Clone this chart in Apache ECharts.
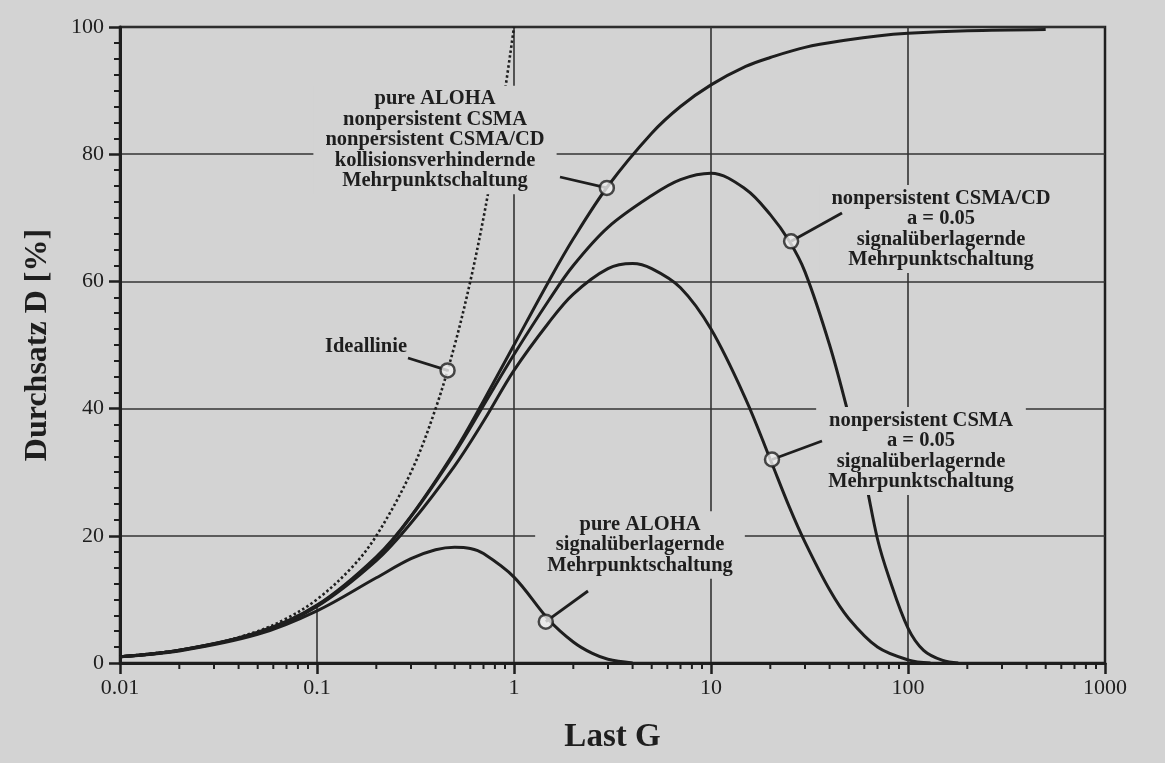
<!DOCTYPE html>
<html><head><meta charset="utf-8">
<script src="https://cdn.jsdelivr.net/npm/echarts@6/dist/echarts.min.js"></script>
<style>html,body{margin:0;padding:0;background:#d3d3d3;}#c{width:1165px;height:763px;}</style>
</head><body><div id="c"></div>
<script>
// ---- data ----
const idealG = [0.01, 0.02, 0.03, 0.05, 0.07, 0.1, 0.15, 0.2, 0.3, 0.4, 0.5, 0.6, 0.7, 0.8, 0.9, 1.0];
const idealD = [1, 2, 3, 5, 7, 10, 15, 20, 30, 40, 50, 60, 70, 80, 90, 100];

const kollG = [0.01, 0.02, 0.05, 0.1, 0.2, 0.3, 0.5, 0.7, 1, 1.5, 2, 3, 5, 7, 10, 15, 20, 30, 50, 70, 100, 200, 500];
const kollD = [1.0, 2.0, 4.8, 9.1, 16.7, 23.1, 33.3, 41.2, 50, 60, 66.7, 75, 83.3, 87.5, 90.9, 93.8, 95.2, 96.8, 98.0, 98.6, 99.0, 99.4, 99.6];

const csmaG = [0.01, 0.02, 0.05, 0.1, 0.2, 0.3, 0.5, 0.7, 1, 1.5, 2, 3, 4, 5, 7, 10, 15, 20, 25, 30, 40, 50, 70, 100, 130];
const csmaD = [1.0, 2.0, 4.7, 8.9, 16.1, 22, 31, 38, 46, 53.5, 58, 62, 62.8, 62, 59, 52.5, 41.5, 32, 24.5, 19, 11.5, 7, 2.5, 0.5, 0];

const cdG = [0.01, 0.02, 0.05, 0.1, 0.2, 0.3, 0.5, 0.7, 1, 1.5, 2, 3, 5, 7, 10, 15, 20, 25, 30, 40, 50, 60, 70, 80, 100, 120, 150, 180];
const cdD = [1.0, 2.0, 4.8, 9.0, 16.5, 23, 33, 40.5, 48.5, 57, 62.5, 68.5, 73.5, 76, 77, 74.5, 70.5, 66.3, 61.5, 50, 39, 29.5, 19.5, 13.5, 5.5, 2, 0.4, 0];

const alohaG = [0.01, 0.02, 0.05, 0.1, 0.2, 0.3, 0.4, 0.5, 0.6, 0.7, 1, 1.5, 2, 2.5, 3, 4];
const alohaD = [1.0, 1.9, 4.5, 8.2, 13.4, 16.4, 17.8, 18.2, 18.0, 17.2, 13.5, 6.8, 3.3, 1.5, 0.6, 0];

// callout circles on the curves (same order as the label texts)
const markG = [2.96, 25.5, 20.4, 1.45, 0.46];
const markD = [74.7, 66.3, 32, 6.5, 46];

const xTickLabels = ['0.01', '0.1', '1', '10', '100', '1000'];
const yTicks = [0, 20, 40, 60, 80, 100];
const labelTexts = [
  'pure ALOHA\nnonpersistent CSMA\nnonpersistent CSMA/CD\nkollisionsverhindernde\nMehrpunktschaltung',
  'nonpersistent CSMA/CD\na = 0.05\nsignalüberlagernde\nMehrpunktschaltung',
  'nonpersistent CSMA\na = 0.05\nsignalüberlagernde\nMehrpunktschaltung',
  'pure ALOHA\nsignalüberlagernde\nMehrpunktschaltung',
  'Ideallinie'
];
const xAxisName = 'Last G';
const yAxisName = 'Durchsatz D [%]';

// ---- chart ----
const BG = '#d3d3d3', INK = '#1e1e1e';
const zip = (a, b) => a.map((v, i) => [v, b[i]]);
const minorX = [];
[0.01, 0.1, 1, 10, 100].forEach(d => { for (let k = 2; k <= 9; k++) minorX.push(+(d * k).toPrecision(3)); });

const chart = echarts.init(document.getElementById('c'), null, {renderer: 'canvas'});
const curve = (name, data, dotted) => ({
  name, type: 'line', data, showSymbol: false, smooth: 0.35, z: 3,
  lineStyle: {color: INK, width: dotted ? 2.6 : 3, type: dotted ? [2.5, 2.5] : 'solid'},
  animation: false
});
chart.setOption({
  backgroundColor: BG,
  animation: false,
  grid: {left: 120, right: 60, top: 27, bottom: 100, show: true, borderColor: INK, borderWidth: 2.5, backgroundColor: 'transparent'},
  xAxis: {
    type: 'log', min: 0.01, max: 1000, logBase: 10,
    name: xAxisName, nameLocation: 'middle', nameGap: 58,
    nameTextStyle: {fontFamily: 'Liberation Serif', fontWeight: 'bold', fontSize: 33, color: INK},
    axisLine: {show: true, lineStyle: {color: INK, width: 3}},
    axisTick: {show: true, inside: false, length: 11, lineStyle: {color: INK, width: 2.5}},
    axisLabel: {fontFamily: 'Liberation Serif', fontSize: 22, color: INK, margin: 14,
      formatter: v => { const s = xTickLabels.find(t => Math.abs(parseFloat(t) - v) / v < 1e-6); return s || ''; }},
    splitLine: {show: false}, minorTick: {show: false}
  },
  yAxis: {
    type: 'value', min: 0, max: 100, interval: 20,
    name: yAxisName, nameLocation: 'middle', nameGap: 66,
    nameTextStyle: {fontFamily: 'Liberation Serif', fontWeight: 'bold', fontSize: 32, color: INK},
    axisLine: {show: true, lineStyle: {color: INK, width: 3}},
    axisTick: {show: true, inside: false, length: 11, lineStyle: {color: INK, width: 2.5}},
    minorTick: {show: true, splitNumber: 8, length: 6, lineStyle: {color: INK, width: 2}},
    axisLabel: {fontFamily: 'Liberation Serif', fontSize: 22, color: INK, margin: 16,
      formatter: v => yTicks.includes(v) ? String(v) : ''},
    splitLine: {show: true, lineStyle: {color: '#333', width: 1.6}}
  },
  series: [
    {
      type: 'line', data: [], z: 0, silent: true,
      markLine: {
        silent: true, symbol: 'none', animation: false, z: 0,
        lineStyle: {color: '#333', width: 1.6, type: 'solid'}, label: {show: false},
        data: [
          [{coord: [0.1, 0]}, {coord: [0.1, 9]}],
          {xAxis: 1}, {xAxis: 10}, {xAxis: 100}
        ]
      }
    },
    {
      type: 'custom', data: minorX.map(v => [v, 0]), z: 4, silent: true, clip: false,
      renderItem: (params, api) => {
        const p = api.coord([api.value(0), 0]);
        return {type: 'line', shape: {x1: p[0], y1: p[1], x2: p[0], y2: p[1] + 6}, style: {stroke: INK, lineWidth: 2}};
      }
    },
    curve('Ideallinie', zip(idealG, idealD), true),
    curve('kollisionsverhindernd', zip(kollG, kollD)),
    curve('CSMA', zip(csmaG, csmaD)),
    curve('CSMA/CD', zip(cdG, cdD)),
    curve('ALOHA', zip(alohaG, alohaD)),
    {
      type: 'scatter', data: zip(markG, markD), z: 10, symbol: 'circle', symbolSize: 14,
      itemStyle: {color: '#efefef', borderColor: INK, borderWidth: 2.5}, silent: true
    }
  ]
});

// callout labels and leader lines (layout in pixels)
const labelPos = [[435, 140], [941, 229], [921, 451], [640, 545], [366, 347]];
const leaderFrom = [[560, 177], [842, 213], [822, 441], [588, 591], [408, 358]];
const graphics = [];
labelTexts.forEach((t, i) => {
  graphics.push({
    type: 'text', z: 4, silent: true,
    style: {
      text: t, x: labelPos[i][0], y: labelPos[i][1],
      align: 'center', verticalAlign: 'middle', textAlign: 'center', textVerticalAlign: 'middle',
      font: 'bold 20.5px "Liberation Serif"', lineHeight: 20.5, fill: INK,
      backgroundColor: BG, padding: [3, 12]
    }
  });
  const m = chart.convertToPixel({xAxisIndex: 0, yAxisIndex: 0}, [markG[i], markD[i]]);
  graphics.push({
    type: 'line', z: 5, silent: true,
    shape: {x1: leaderFrom[i][0], y1: leaderFrom[i][1], x2: m[0], y2: m[1]},
    style: {stroke: INK, lineWidth: 2.8}
  });
});
chart.setOption({graphic: graphics});
</script>
</body></html>
